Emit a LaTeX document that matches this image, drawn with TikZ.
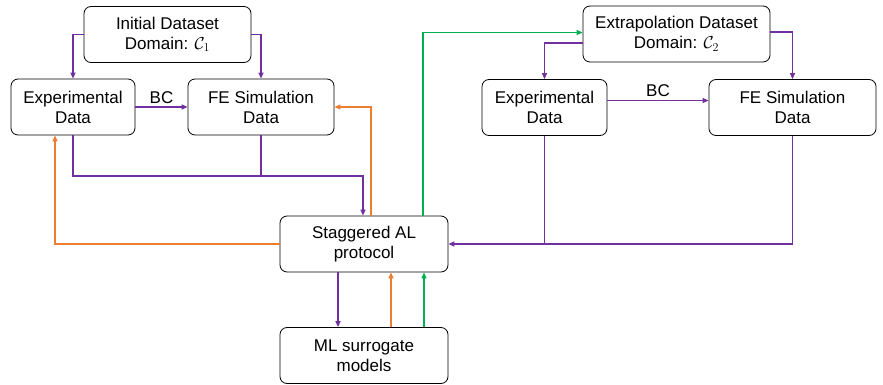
\documentclass[tikz,border=0pt]{standalone}
\usepackage{fontspec}
\setmainfont{Liberation Sans}
\usepackage{amsmath}
\usetikzlibrary{arrows.meta,calc}

\begin{document}
\begin{tikzpicture}[
    x=1pt, y=-1pt,
    every node/.style={font=\fontsize{17}{20}\selectfont},
    databox/.style={draw=black, line width=0.8pt, rounded corners=7pt, align=center,
      inner sep=0pt, minimum height=56pt},
    flowPurple/.style={draw=linkPurple, line width=1.6pt, -{Triangle[length=6pt, width=5pt]}},
    flowOrange/.style={draw=linkOrange, line width=1.6pt, -{Triangle[length=6pt, width=5pt]}},
    flowGreen/.style={draw=linkGreen, line width=1.6pt, -{Triangle[length=6pt, width=5pt]}},
    plainPurple/.style={draw=linkPurple, line width=1.6pt},
  ]
    \definecolor{linkPurple}{HTML}{7030A0}
    \definecolor{linkOrange}{HTML}{ED7D31}
    \definecolor{linkGreen}{HTML}{00B050}
    \useasboundingbox (0,0) rectangle (883,385);

    % -------- boxes --------
    \node[databox, minimum width=167pt] (initSet) at (167.5,34.5) {Initial Dataset\\Domain: $\mathcal{C}_1$};
    \node[databox, minimum width=124pt] (expL) at (73,107) {Experimental\\Data};
    \node[databox, minimum width=146pt] (feL) at (261,107) {FE Simulation\\Data};
    \node[databox, minimum width=187pt] (extrSet) at (676.5,34) {Extrapolation Dataset\\Domain: $\mathcal{C}_2$};
    \node[databox, minimum width=125pt] (expR) at (544.5,107.5) {Experimental\\Data};
    \node[databox, minimum width=167pt] (feR) at (792.5,107.5) {FE Simulation\\Data};
    \node[databox, minimum width=168pt] (stag) at (364,244) {Staggered AL\\protocol};
    \node[databox, minimum width=168pt] (mlSur) at (364,355.5) {ML surrogate\\models};

    % -------- left domain --------
    \draw[flowPurple] (initSet.west) -| (expL.north);
    \draw[flowPurple] (initSet.east) -| (feL.north);
    \draw[flowPurple] (expL.east) -- (feL.west) node[midway, above=3pt, inner sep=0pt] (bcL) {BC};
    \coordinate (joinL) at (363,176);
    \draw[plainPurple] (feL.south) -- (feL.south |- joinL);
    \draw[flowPurple] (expL.south) |- (joinL) -- (joinL |- stag.north);
    \draw[flowOrange] (stag.west) -| ([xshift=-18pt]expL.south);
    \draw[flowOrange] ([xshift=7pt]stag.north) |- (feL.east);

    % -------- right domain --------
    \draw[flowGreen] ([xshift=59pt]stag.north) |- ([yshift=1.5pt]extrSet.west);
    \draw[flowPurple] ([yshift=-9pt]extrSet.west) -| (expR.north);
    \draw[flowPurple] ([yshift=2pt]extrSet.east) -| (feR.north);
    \draw[flowPurple] ([yshift=7pt]expR.east) -- ([yshift=7pt]feR.west) node[midway, above=3pt, inner sep=0pt] (bcR) {BC};
    \draw[plainPurple] (expR.south) -- (expR.south |- stag.east);
    \draw[flowPurple] (feR.south) |- (stag.east);

    % -------- AL loop --------
    \draw[flowPurple] ([xshift=-26pt]stag.south) -- ([xshift=-26pt]mlSur.north);
    \draw[flowOrange] ([xshift=27pt]mlSur.north) -- ([xshift=27pt]stag.south);
    \draw[flowGreen] ([xshift=60pt]mlSur.north) -- ([xshift=60pt]stag.south);
  \end{tikzpicture}
\end{document}
